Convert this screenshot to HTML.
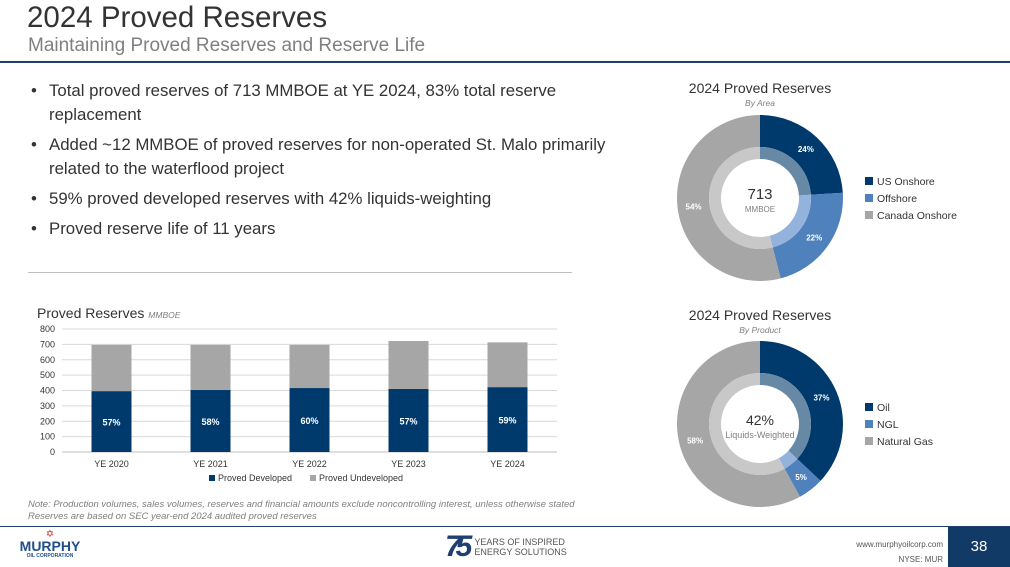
<!DOCTYPE html>
<html><head><meta charset="utf-8"><style>
body{margin:0;width:1010px;height:567px;overflow:hidden;background:#fff;font-family:"Liberation Sans",sans-serif;position:relative}
.abs{position:absolute}
ul{margin:0;padding:0;list-style:none}
li{position:relative;padding-left:22px;font-size:16.8px;color:#333;line-height:24px;margin-bottom:6px}
li:before{content:"•";position:absolute;left:4px;top:0}
</style></head><body>
<div class="abs" style="left:27px;top:1px;font-size:29.5px;color:#333">2024 Proved Reserves</div>
<div class="abs" style="left:28px;top:35px;font-size:19px;color:#7f7f7f">Maintaining Proved Reserves and Reserve Life</div>
<div class="abs" style="left:0;top:61px;width:1010px;height:2px;background:#1f3f6e"></div>
<ul class="abs" style="left:27px;top:79px;width:610px">
<li>Total proved reserves of 713 MMBOE at YE 2024, 83% total reserve replacement</li>
<li>Added ~12 MMBOE of proved reserves for non-operated St. Malo primarily related to the waterflood project</li>
<li>59% proved developed reserves with 42% liquids-weighting</li>
<li>Proved reserve life of 11 years</li>
</ul>
<div class="abs" style="left:28px;top:272px;width:544px;height:1px;background:#bfbfbf"></div>
<svg class="abs" style="left:0;top:0" width="1010" height="567" id="svg">
<text x="37" y="318" font-size="14" fill="#333">Proved Reserves <tspan font-size="8.5" font-style="italic" fill="#7f7f7f">MMBOE</tspan></text>
<g id="bars"></g>
<text x="760" y="93" font-size="14" fill="#333" text-anchor="middle">2024 Proved Reserves</text>
<text x="760" y="106" font-size="8.5" font-style="italic" fill="#7f7f7f" text-anchor="middle">By Area</text>
<text x="760" y="320" font-size="14" fill="#333" text-anchor="middle">2024 Proved Reserves</text>
<text x="760" y="333" font-size="8.5" font-style="italic" fill="#7f7f7f" text-anchor="middle">By Product</text>
<g id="donuts"></g>
</svg>
<div class="abs" style="left:28px;top:499px;font-size:9.5px;font-style:italic;color:#7f7f7f;line-height:12px">Note: Production volumes, sales volumes, reserves and financial amounts exclude noncontrolling interest, unless otherwise stated<br>Reserves are based on SEC year-end 2024 audited proved reserves</div>
<div class="abs" style="left:0;top:526px;width:1010px;height:1px;background:#1f3f6e"></div>
<div class="abs" style="left:10px;top:530px;width:80px;text-align:center">
<div style="color:#c0282d;font-size:10px;line-height:10px">✡</div>
<div style="color:#1f4e8c;font-weight:bold;font-size:14px;line-height:13px">MURPHY</div>
<div style="color:#1f4e8c;font-weight:bold;font-size:5px">OIL CORPORATION</div></div>
<div class="abs" style="left:445px;top:530px;display:flex;align-items:center">
<span style="font-size:30px;font-weight:bold;font-style:italic;color:#1f3f6e;letter-spacing:-6px">75</span>
<span style="font-size:9px;color:#555;line-height:10px;margin-left:8px">YEARS OF INSPIRED<br>ENERGY SOLUTIONS</span></div>
<div class="abs" style="right:67px;top:537px;font-size:8px;color:#555;text-align:right;line-height:15px">www.murphyoilcorp.com<br>NYSE: MUR</div>
<div class="abs" style="left:948px;top:527px;width:62px;height:40px;background:#123a66;color:#fff;font-size:15px;text-align:center;line-height:40px">38</div>
<script>
const NS="http://www.w3.org/2000/svg";
const categories=["YE 2020","YE 2021","YE 2022","YE 2023","YE 2024"];
const developed=[396,404,416,410,422];
const undeveloped=[301,293,281,312,291];
const pctLabels=["57%","58%","60%","57%","59%"];
const yTicks=[0,100,200,300,400,500,600,700,800];
const areaLabels=["US Onshore","Offshore","Canada Onshore"];
const areaValues=[24,22,54];
const productLabels=["Oil","NGL","Natural Gas"];
const productValues=[37,5,58];
function el(t,a,p){const e=document.createElementNS(NS,t);for(const k in a)e.setAttribute(k,a[k]);p.appendChild(e);return e;}
const g=document.getElementById("bars");
const x0=62,x1=557,y0=452,y1=329,yMax=800;
const y=v=>y0-(v/yMax)*(y0-y1);
const bw=(x1-x0)/categories.length;
const xc=i=>x0+bw*(i+0.5);
yTicks.forEach(t=>{
 const l=el("line",{x1:x0,x2:x1,y1:y(t),y2:y(t),stroke:t?"#d9d9d9":"#bfbfbf","stroke-width":1},g);
 
 
 const tx=el("text",{x:55,y:y(t)+3,"font-size":9,fill:"#333","text-anchor":"end"},g);tx.textContent=t;
 
 
});
categories.forEach((c,i)=>{
 const w=40,bx=xc(i)-w/2;
 const r1=el("rect",{x:bx,y:y(developed[i]),width:w,height:y0-y(developed[i]),fill:"#003a6c"},g);
 
 
 const r2=el("rect",{x:bx,y:y(developed[i]+undeveloped[i]),width:w,height:y(developed[i])-y(developed[i]+undeveloped[i]),fill:"#a6a6a6"},g);
 
 
 const p=el("text",{x:xc(i),y:y(developed[i]/2)+4,"font-size":9,"font-weight":"bold",fill:"#fff","text-anchor":"middle"},g);p.textContent=pctLabels[i];
 
 
 const t=el("text",{x:xc(i),y:467,"font-size":9,fill:"#333","text-anchor":"middle"},g);t.textContent=c;
 
 
});
[["Proved Developed","#003a6c",209],["Proved Undeveloped","#a6a6a6",310]].forEach(([n,c,lx])=>{
 const r=el("rect",{x:lx,y:475,width:6,height:6,fill:c},g);
 
 
 const t=el("text",{x:lx+9,y:481,"font-size":9,fill:"#333"},g);t.textContent=n;
 
 
});
const dg=document.getElementById("donuts");
function arc(cx,cy,r0,r1,a0,a1){
 const p=(r,a)=>[cx+r*Math.sin(a),cy-r*Math.cos(a)];
 const lg=(a1-a0)>Math.PI?1:0;
 const [ax,ay]=p(r1,a0),[bx,by]=p(r1,a1),[cx2,cy2]=p(r0,a1),[dx,dy]=p(r0,a0);
 return `M${ax},${ay}A${r1},${r1} 0 ${lg} 1 ${bx},${by}L${cx2},${cy2}A${r0},${r0} 0 ${lg} 0 ${dx},${dy}Z`;
}
const outer=["#003a6c","#4f81bd","#a6a6a6"],inner=["#6889a6","#94b3dc","#c8c8c8"];
function donut(cx,cy,labels,vals,center,sub,name){
 const tot=vals.reduce((a,b)=>a+b,0);let a=0;
 vals.forEach((v,i)=>{
  const a1=a+v/tot*2*Math.PI;
  const o=el("path",{d:arc(cx,cy,51,83,a,a1),fill:outer[i]},dg);
  
  
  const n=el("path",{d:arc(cx,cy,39,51,a,a1),fill:inner[i]},dg);
  
  
  const m=(a+a1)/2;
  const t=el("text",{x:cx+67*Math.sin(m),y:cy-67*Math.cos(m)+3,"font-size":8,"font-weight":"bold",fill:"#fff","text-anchor":"middle"},dg);t.textContent=v+"%";
  
  
  const ly=cy-17+i*17;
  const s=el("rect",{x:865,y:ly-4,width:8,height:8,fill:outer[i]},dg);
  
  
  const lt=el("text",{x:877,y:ly+4,"font-size":10.5,fill:"#333"},dg);lt.textContent=labels[i];
  
  
  a=a1;
 });
 const c=el("text",{x:cx,y:cy+1,"font-size":name==="area"?15:14,fill:"#333","text-anchor":"middle"},dg);c.textContent=center;
 
 
 const s=el("text",{x:cx,y:cy+14,"font-size":name==="area"?8:9,fill:"#7f7f7f","text-anchor":"middle"},dg);s.textContent=sub;
 
 
}
donut(760,198,areaLabels,areaValues,"713","MMBOE","area");
donut(760,424,productLabels,productValues,"42%","Liquids-Weighted","product");
</script>
</body></html>
